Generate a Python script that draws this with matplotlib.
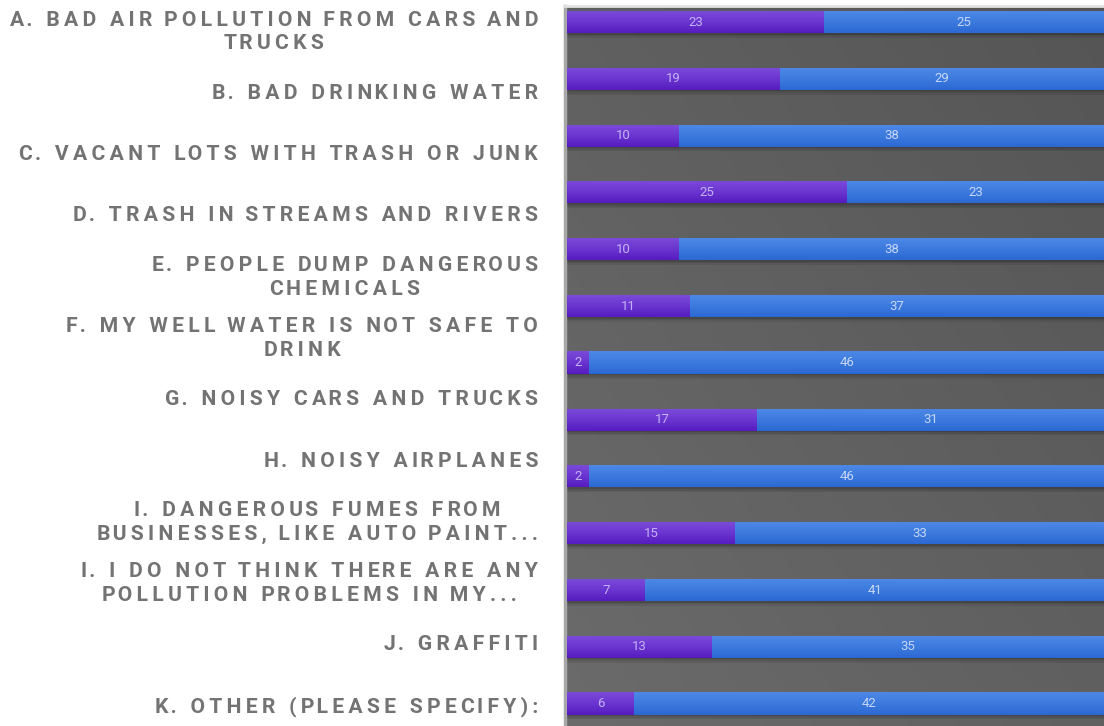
#!/usr/bin/env python3
import numpy as np
import matplotlib as mpl
mpl.use('Agg')
import matplotlib.pyplot as plt
from matplotlib.colors import LinearSegmentedColormap


# +
# data
# -
labels = [
    "A. BAD AIR POLLUTION FROM CARS AND\nTRUCKS",
    "B. BAD DRINKING WATER",
    "C. VACANT LOTS WITH TRASH OR JUNK",
    "D. TRASH IN STREAMS AND RIVERS",
    "E. PEOPLE DUMP DANGEROUS\nCHEMICALS",
    "F. MY WELL WATER IS NOT SAFE TO\nDRINK",
    "G. NOISY CARS AND TRUCKS",
    "H. NOISY AIRPLANES",
    "I. DANGEROUS FUMES FROM\nBUSINESSES, LIKE AUTO PAINT...",
    "I. I DO NOT THINK THERE ARE ANY\nPOLLUTION PROBLEMS IN MY...",
    "J. GRAFFITI",
    "K. OTHER (PLEASE SPECIFY):",
]
purple_vals = [23, 19, 10, 25, 10, 11, 2, 17, 2, 15, 7, 13, 6]
blue_vals = [25, 29, 38, 23, 38, 37, 46, 31, 46, 33, 41, 35, 42]

W, H = 1104, 726
FAM = ['Roboto', 'DejaVu Sans']
LAB_FS = 15.2

# label widths in the reference (px), used to tune the letter spacing
fit_lines = ["A. BAD AIR POLLUTION FROM CARS AND", "B. BAD DRINKING WATER",
             "C. VACANT LOTS WITH TRASH OR JUNK", "K. OTHER (PLEASE SPECIFY):"]
fit_widths = [530, 328, 516, 388]


def spaced(s, f):
    # fake letter spacing: on average f hair spaces between letters
    out = []
    for line in s.split("\n"):
        parts = [line[0]]
        for i, ch in enumerate(line[1:]):
            cnt = int(np.floor((i + 1) * f) - np.floor(i * f))
            parts.append("\u200a" * cnt + ch)
        out.append("".join(parts))
    return "\n".join(out)


fig = plt.figure(figsize=(W / 100, H / 100), dpi=100)
fig.patch.set_facecolor('white')

# +
# bar axes
# -
ax_l, ax_r, ax_t = 565, 1104, 6
ax = fig.add_axes([ax_l / W, 0, (ax_r - ax_l) / W, (H - ax_t) / H])
n = len(purple_vals)
y = np.arange(n)
slot = 56.8
c0 = 22
xlim = (-2 / ((ax_r - ax_l) / 48.0), 48)
ylim = ((H - c0) / slot, (ax_t - c0) / slot)

# background gradient
gx, gy = np.meshgrid(np.linspace(0, 1, 200), np.linspace(0, 1, 200))
g = 0.5 * gx + 0.5 * (1 - gy)
bg_cmap = LinearSegmentedColormap.from_list('bg', ['#6b6b6b', '#555555'])
ax.imshow(g, cmap=bg_cmap, extent=[0, 1, 0, 1], transform=ax.transAxes,
          aspect='auto', zorder=0, interpolation='bilinear')

bh = 22 / slot
# shadows below bars
tot = np.array(purple_vals) + np.array(blue_vals)
for k, a in enumerate([0.28, 0.16, 0.08]):
    ax.barh(y + bh / 2 + (k + 0.5) * 1.6 / slot, tot, height=1.6 / slot,
            left=0, color='black', alpha=a, linewidth=0, zorder=1)

b1 = ax.barh(y, purple_vals, height=bh, color='#6430cc', linewidth=0, zorder=2)
b2 = ax.barh(y, blue_vals, left=purple_vals, height=bh, color='#3a78de',
             linewidth=0, zorder=2)

cm_p = LinearSegmentedColormap.from_list('p', ['#7b4ad8', '#6a35d0', '#561cbf'])
cm_b = LinearSegmentedColormap.from_list('b', ['#4d88e6', '#3c7ade', '#2c68d2'])
grad = np.linspace(0, 1, 50).reshape(-1, 1)
for bars, cm in ((b1, cm_p), (b2, cm_b)):
    for p in bars:
        x0, y0, w, h = p.get_x(), p.get_y(), p.get_width(), p.get_height()
        ax.imshow(grad, cmap=cm, extent=[x0, x0 + w, y0 + h, y0],
                  aspect='auto', zorder=3, interpolation='bilinear')
ax.set_xlim(*xlim)
ax.set_ylim(*ylim)

for bars, vals, col in ((b1, purple_vals, '#c4b2f4'), (b2, blue_vals, '#c6d6f5')):
    for p, v in zip(bars, vals):
        ax.text(p.get_x() + p.get_width() / 2, p.get_y() + p.get_height() / 2,
                str(v), ha='center', va='center', color=col, fontsize=9.5,
                family=FAM, fontweight='normal', zorder=4)

ax.set_xticks([])
ax.set_yticks([])
for s in ('right', 'bottom'):
    ax.spines[s].set_visible(False)
ax.spines['left'].set_color('#a8a8a8')
ax.spines['left'].set_linewidth(2.5)
ax.spines['top'].set_color('#e2e2e2')
ax.spines['top'].set_linewidth(2)

# +
# label axes (labels sit on their own spacing)
# -
lab = fig.add_axes([0, 0, 538 / W, 1])
lab.set_xlim(0, 1)
lab_slot = 61.3
lab_c0 = 32
lab.set_ylim((H - lab_c0) / lab_slot, (0 - lab_c0) / lab_slot)
lab.axis('off')

# pick letter spacing closest to the reference widths
renderer = fig.canvas.get_renderer()
best_f, best_e = 1.0, 1e9
for f in np.arange(0.0, 4.01, 0.1):
    err = 0
    for s, wt in zip(fit_lines, fit_widths):
        t = lab.text(1, 1, spaced(s, f), fontsize=LAB_FS, family=FAM,
                     fontweight='bold')
        err += abs(t.get_window_extent(renderer).width - wt)
        t.remove()
    if err < best_e:
        best_f, best_e = f, err

for j, t in enumerate(labels):
    lab.text(1, j, spaced(t, best_f), ha='right', va='center',
             multialignment='center', color='#737373', linespacing=1.32,
             fontsize=LAB_FS, family=FAM, fontweight='bold')

fig.savefig('out.png', dpi=100)
